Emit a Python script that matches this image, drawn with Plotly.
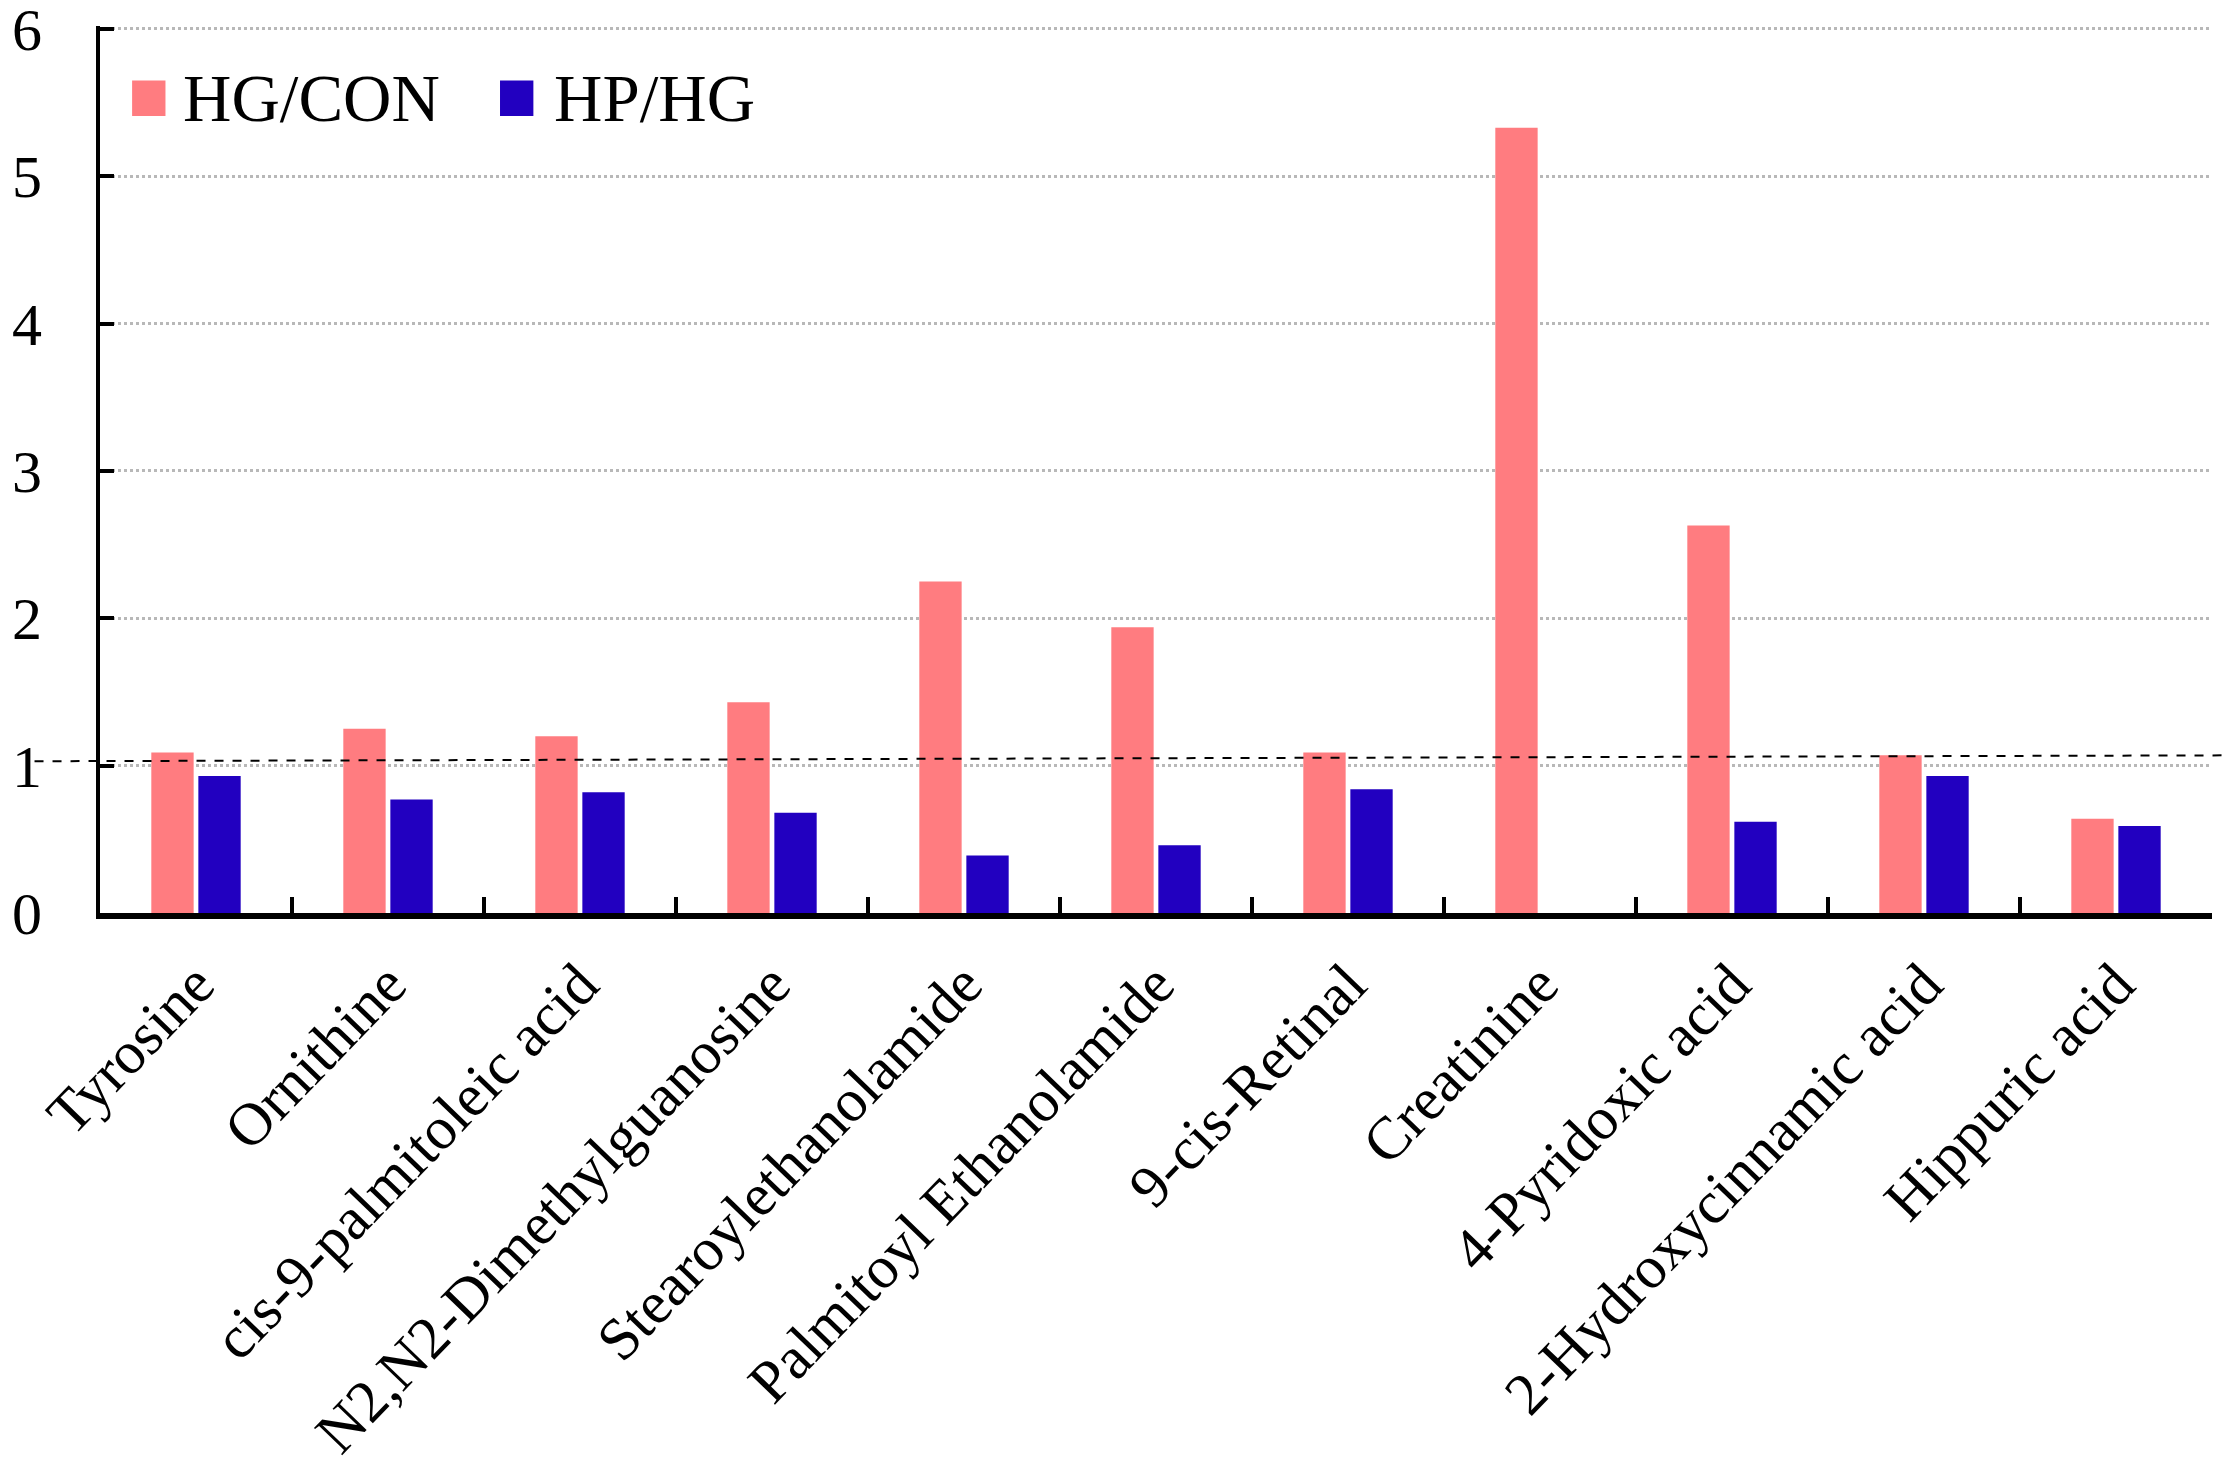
import plotly.graph_objects as go

# metabolites and fold changes
metabolites = ["Tyrosine", "Ornithine", "cis-9-palmitoleic acid", "N2,N2-Dimethylguanosine",
               "Stearoylethanolamide", "Palmitoyl Ethanolamide", "9-cis-Retinal", "Creatinine",
               "4-Pyridoxic acid", "2-Hydroxycinnamic acid", "Hippuric acid"]
hg_con = [1.09, 1.25, 1.20, 1.43, 2.25, 1.94, 1.09, 5.33, 2.63, 1.07, 0.64]
hp_hg = [0.93, 0.77, 0.82, 0.68, 0.39, 0.46, 0.84, None, 0.62, 0.93, 0.59]
series_names = ["HG/CON", "HP/HG"]
y_ticks = [0, 1, 2, 3, 4, 5, 6]
ref_line = [1.03, 1.07]  # dashed reference line, left and right end

PINK = "#FF7C80"
BLUE = "#2200C0"
FONT = "Times New Roman, Liberation Serif, serif"
YMAX = 6.02  # a hair above 6 so the top grid line is kept

fig = go.Figure()
fig.add_trace(go.Bar(x=metabolites, y=hg_con, name=series_names[0],
                     marker=dict(color=PINK, line=dict(width=0)), showlegend=False))
fig.add_trace(go.Bar(x=metabolites, y=hp_hg, name=series_names[1],
                     marker=dict(color=BLUE, line=dict(width=0)), showlegend=False))

# dashed line near 1, slightly tilted like the original
fig.add_shape(type="line", xref="paper", yref="paper",
              x0=-0.031, x1=1.0085, y0=ref_line[0] / YMAX, y1=ref_line[1] / YMAX,
              line=dict(color="black", width=2, dash="dash"), layer="above")

# legend drawn by hand so the swatches can be big
legend_items = [(series_names[0], PINK, 0.0152, 0.0384),
                (series_names[1], BLUE, 0.1894, 0.2140)]
for name, col, sx, tx in legend_items:
    fig.add_shape(type="rect", xref="paper", yref="paper",
                  x0=sx, x1=sx + 0.0158, y0=5.41 / YMAX, y1=5.65 / YMAX,
                  fillcolor=col, line=dict(width=0))
    fig.add_annotation(text=name, xref="paper", yref="paper", x=tx, y=5.53 / YMAX,
                       xanchor="left", yanchor="middle", showarrow=False,
                       font=dict(family=FONT, size=67, color="black"))

# page body has an 8px margin, so the figure is a bit smaller than the window
fig.update_layout(
    width=2222, height=1466,
    margin=dict(l=92, r=18, t=18, b=561, autoexpand=False),
    paper_bgcolor="white", plot_bgcolor="white",
    barmode="group", bargap=0.51, bargroupgap=0.1,
    font=dict(family=FONT, color="black"),
    showlegend=False,
)
fig.update_xaxes(
    automargin=False,
    showline=True, linecolor="black", linewidth=6,
    ticks="inside", tickson="boundaries", ticklen=16, tickwidth=4, tickcolor="black",
    tickangle=-46, tickfont=dict(family=FONT, size=60, color="black"),
    ticklabelstandoff=6, showgrid=False,
)
fig.update_yaxes(
    automargin=False, ticklabeloverflow="allow",
    range=[0, YMAX], tickvals=y_ticks, showline=True, linecolor="black", linewidth=4,
    ticks="inside", ticklen=14, tickwidth=4, tickcolor="black",
    tickfont=dict(family=FONT, size=60, color="black"), ticklabelstandoff=42,
    showgrid=True, gridcolor="#b8b8b8", gridwidth=3, griddash="dot", zeroline=False,
)

fig.write_html("out.html")
